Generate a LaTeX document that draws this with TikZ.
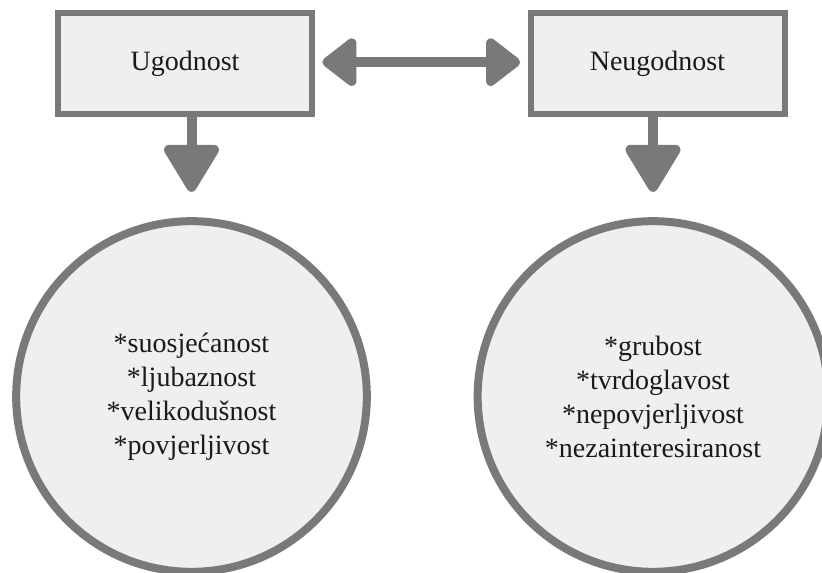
\documentclass[tikz,border=0pt]{standalone}
\usepackage{fontspec}
\setmainfont{Liberation Serif}
\usetikzlibrary{arrows.meta}
\definecolor{rub}{RGB}{122,121,121}
\definecolor{pod}{RGB}{240,239,237}
\definecolor{tekst}{RGB}{26,26,26}

\begin{document}
\begin{tikzpicture}[x=0.75pt,y=0.75pt,yscale=-1,xscale=1,
	kutija/.style={draw=rub, fill=pod, line width=4.5pt, minimum width=190.5pt, minimum height=75.75pt, inner sep=0pt, text=tekst, font=\fontsize{21}{25.5}\selectfont},
	krug/.style={circle, draw=rub, fill=pod, line width=6pt, minimum size=263pt, inner sep=0pt, align=center, text=tekst, font=\fontsize{21}{25.5}\selectfont},
	vrh/.tip={Triangle[length=28pt, width=41pt, round]},
	dvrh/.tip={Triangle[length=39pt, width=45pt, round]},
	strelica/.style={draw=rub, line width=7.5pt}]
		\useasboundingbox (0,0) rectangle (822,573);

		\node [kutija] (ugo) at (185,63.5) {Ugodnost};
		\node [kutija] (neu) at (657.5,63.5) {Neugodnost};
		\node [krug] (lkrug) at (191.5,396.5) {*suosjećanost\\*ljubaznost\\*velikodušnost\\*povjerljivost};
		\node [krug] (dkrug) at (653,396.5) {*grubost\\*tvrdoglavost\\*nepovjerljivost\\*nezainteresiranost};

		\draw [strelica, vrh-vrh, shorten <=5.5pt, shorten >=5.5pt] ([yshift=-1pt]ugo.east) -- ([yshift=-1pt]neu.west);
		\draw [strelica, -dvrh, shorten >=19pt] (lkrug.north |- ugo.south) -- (lkrug.north);
		\draw [strelica, -dvrh, shorten >=19pt] (dkrug.north |- neu.south) -- (dkrug.north);
\end{tikzpicture}
\end{document}
